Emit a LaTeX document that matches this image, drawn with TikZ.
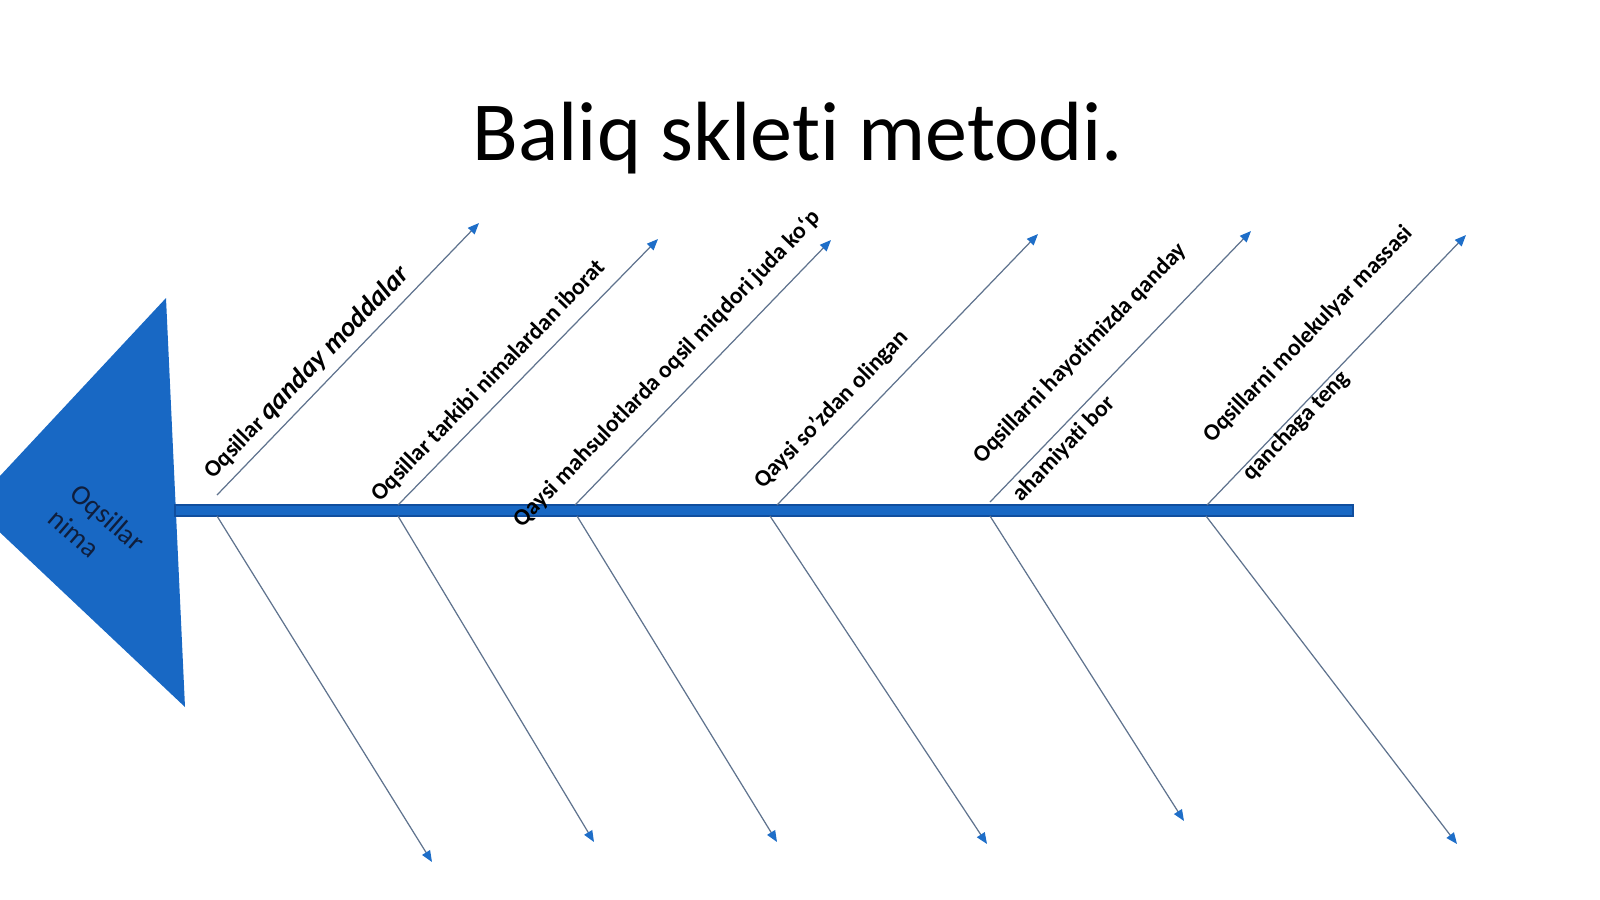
\documentclass[tikz,border=0pt]{standalone}
\usepackage{fontspec}
\setmainfont{Carlito}[Ligatures=NoCommon]
\definecolor{fishblue}{RGB}{24, 104, 196}
\definecolor{spineedge}{RGB}{16, 78, 158}
\definecolor{bonegray}{RGB}{95, 115, 142}
\definecolor{tipblue}{RGB}{30, 110, 200}
\definecolor{headnavy}{RGB}{15, 30, 60}
\usetikzlibrary{arrows.meta, positioning}

\begin{document}
\begin{tikzpicture}[x=0.01cm, y=-0.01cm,
    bone/.style={draw=bonegray, line width=0.35pt, -{Triangle[length=3.2pt, width=2.6pt, color=tipblue]}},
    bonetext/.style={anchor=base west, rotate=46, inner sep=0pt, font=\fontsize{6.7}{8}\selectfont\bfseries}]
  \useasboundingbox (0,0) rectangle (1600,899);
  \clip (0,0) rectangle (1600,899);

  % Title
  \node[font=\fontsize{23.9}{28}\selectfont, anchor=base] (title) at (798,160) {Baliq skleti metodi.};

  % Head and spine
  \fill[fishblue] (166,298) -- (-28,506) -- (185,707) -- cycle;
  \node[font=\fontsize{8}{9.6}\selectfont, text=headnavy, rotate=-41, align=left, inner sep=0pt] (head) at (97,530) {Oqsillar\\nima};
  \fill[fishblue, draw=spineedge, line width=0.3pt] (175,505) rectangle (1353,516);

  % Upper bones
  \coordinate (u1a) at (217,495);  \coordinate (u1b) at (479,223);
  \coordinate (u2a) at (398,505);  \coordinate (u2b) at (658,239);
  \coordinate (u3a) at (575,505);  \coordinate (u3b) at (831,240);
  \coordinate (u4a) at (777,505);  \coordinate (u4b) at (1038,234);
  \coordinate (u5a) at (990,502);  \coordinate (u5b) at (1251,231);
  \coordinate (u6a) at (1207,505); \coordinate (u6b) at (1466,235);
  \draw[bone] (u1a) -- (u1b);
  \draw[bone] (u2a) -- (u2b);
  \draw[bone] (u3a) -- (u3b);
  \draw[bone] (u4a) -- (u4b);
  \draw[bone] (u5a) -- (u5b);
  \draw[bone] (u6a) -- (u6b);

  % Lower bones
  \coordinate (l1a) at (217,516);  \coordinate (l1b) at (432,862);
  \coordinate (l2a) at (398,516);  \coordinate (l2b) at (594,842);
  \coordinate (l3a) at (577,516);  \coordinate (l3b) at (777,842);
  \coordinate (l4a) at (770,516);  \coordinate (l4b) at (987,844);
  \coordinate (l5a) at (990,516);  \coordinate (l5b) at (1184,821);
  \coordinate (l6a) at (1206,516); \coordinate (l6b) at (1457,844);
  \draw[bone] (l1a) -- (l1b);
  \draw[bone] (l2a) -- (l2b);
  \draw[bone] (l3a) -- (l3b);
  \draw[bone] (l4a) -- (l4b);
  \draw[bone] (l5a) -- (l5b);
  \draw[bone] (l6a) -- (l6b);

  % Questions
  \node[bonetext] (q1) at (213,480) {Oqsillar {\itshape\fontsize{7.8}{9}\selectfont qanday moddalar}};
  \node[bonetext] (q2) at (380,503) {Oqsillar tarkibi nimalardan iborat};
  \node[bonetext] (q3) at (522,529) {Qaysi mahsulotlarda oqsil miqdori juda ko‘p};
  \node[bonetext] (q4) at (763,490) {Qaysi so’zdan olingan};
  % two-line questions: anchored at the start of the last line
  \node[bonetext, align=left] (q5) at (1021,503) {Oqsillarni hayotimizda qanday\\[7.6pt]ahamiyati bor};
  \node[bonetext, align=left] (q6) at (1251,482) {Oqsillarni molekulyar massasi\\[7.6pt]qanchaga teng};
\end{tikzpicture}
\end{document}
